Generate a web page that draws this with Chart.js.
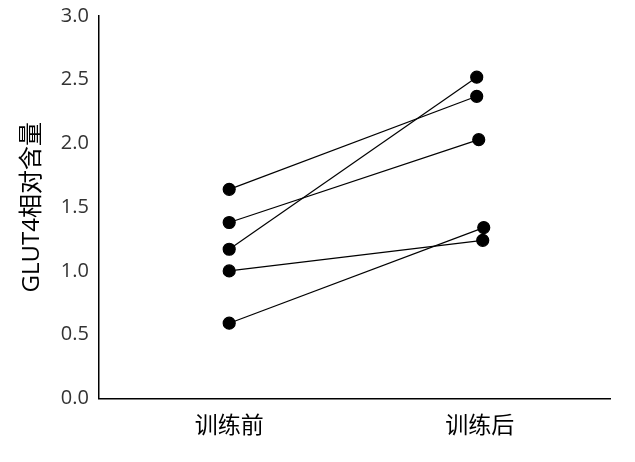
<!DOCTYPE html>
<html><head><meta charset="utf-8">
<script src="https://cdn.jsdelivr.net/npm/chart.js@4"></script>
<style>html,body{margin:0;padding:0;background:#fff}#w{width:635px;height:462px}</style>
</head><body><div id="w"><canvas id="c"></canvas></div>
<script>
const categories = ["训练前", "训练后"];
const before = [1.64, 1.38, 1.17, 1.00, 0.59];
const after = [2.37, 2.03, 2.52, 1.24, 1.34];
const afterX = [1.988, 1.996, 1.988, 2.012, 2.016];
const yTicks = [0, 0.5, 1, 1.5, 2, 2.5, 3];

const datasets = before.map((b, i) => ({
  data: [{x: 1, y: b}, {x: afterX[i], y: after[i]}],
  borderColor: '#000', backgroundColor: '#000', borderWidth: 1.2,
  pointRadius: 6, pointHoverRadius: 6, showLine: true
}));
const F = "'Open Sans','Noto Sans CJK SC',sans-serif";
new Chart(document.getElementById('c'), {
  type: 'scatter',
  data: {datasets},
  options: {
    responsive: true, maintainAspectRatio: false, animation: false,
    layout: {padding: {top: 5, right: 25, bottom: 8, left: 14}},
    plugins: {legend: {display: false}, tooltip: {enabled: false}},
    scales: {
      x: {type: 'linear', min: 0.48, max: 2.52,
        afterBuildTicks: a => { a.ticks = [{value: 1}, {value: 2}]; },
        ticks: {callback: v => categories[Math.round(v) - 1], color: '#000', font: {family: F, size: 23}, padding: 14},
        grid: {display: false, drawTicks: false}, border: {color: '#000', width: 1.5}},
      y: {min: 0, max: 3,
        afterBuildTicks: a => { a.ticks = yTicks.map(v => ({value: v})); },
        ticks: {callback: v => v.toFixed(1), color: '#333', font: {family: F, size: 20}, padding: 4},
        grid: {display: false, drawTicks: true, tickLength: 6, tickColor: '#000'},
        border: {color: '#000', width: 1.5},
        title: {display: true, text: 'GLUT4相对含量', color: '#000', font: {family: F, size: 24}, padding: {bottom: 10}}}
    }
  }
});
</script></body></html>
